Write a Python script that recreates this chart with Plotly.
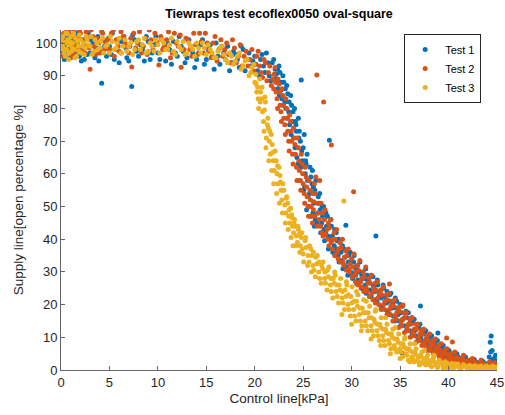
import plotly.graph_objects as go

TITLE = "Tiewraps test ecoflex0050 oval-square"
X_LABEL = "Control line[kPa]"
Y_LABEL = "Supply line[open percentage %]"
SERIES_NAMES = ["Test 1", "Test 2", "Test 3"]
X_TICKS = [0, 5, 10, 15, 20, 25, 30, 35, 40, 45]
Y_TICKS = [0, 10, 20, 30, 40, 50, 60, 70, 80, 90, 100]

# (control kPa, supply %) pairs
TEST1_PTS = [
    (0.1,97),(0.2,101),(0.3,99),(0.4,103),(0.5,96),(0.6,100),(0.8,98),(0.9,102),(1.0,95.5),(1.1,99),
    (1.3,101),(1.4,97),(1.6,103),(1.7,100),(1.9,96),(2.0,98),(2.2,101),(2.4,95),(2.6,99),(2.8,103),
    (3.0,97),(3.3,100),(3.5,95.5),(3.8,102),(4.0,98),(4.2,87.7),(4.4,101),(4.7,96),(5.0,99),(5.3,103),
    (5.5,95),(5.9,100),(6.2,97),(6.5,102),(6.8,95.5),(7.1,99),(7.3,86.7),(7.6,101),(8.0,96),(8.4,98),
    (8.8,102),(9.2,95),(9.6,99.5),
    (10.0,97),(10.4,101),(10.8,94.5),(11.2,98),(11.6,100.5),(12.0,96),(12.4,99),(12.8,94),(13.2,101),
    (13.6,97),(14.0,95),(14.4,99.5),(14.8,93.5),
    (15.2,98),(15.6,96),(16.0,100),(16.4,93.5),(16.8,97),(17.2,99),(17.6,94),(18.0,96.5),(18.4,92.5),
    (18.8,98),(19.2,95),(19.6,93),(20.0,96),
    (20.3,91.5),(20.6,95),(20.9,93),(21.2,97),(21.5,90),(21.8,94),(22.1,92),
    (22.3,88),(22.5,93),(22.7,85.6),(22.9,90),(23.1,82),(23.3,87),(23.5,79),(23.7,84),(23.9,76),
    (24.1,80),(24.3,73),(24.4,68),(24.5,77),(24.7,70),(24.8,88.7),(24.9,64),(25.1,72),(25.2,60),
    (25.4,66),(25.5,53),(25.7,62),(25.9,57),
    (26.1,51),(26.3,58),(26.5,48),(26.7,54),(26.9,45),(27.1,50),(27.3,42),(27.5,47),(27.7,70.3),
    (27.8,40),(27.9,44),
    (28.2,38),(28.4,42),(28.6,35),(28.8,39),(29.0,33),(29.2,37),(29.4,44.3),(29.5,31.5),(29.7,35),(29.9,30),
    (30.2,33),(30.4,29),(30.6,32),(30.9,27),(31.1,30),(31.4,26),(31.6,29),(31.9,24.5),
    (32.2,28.5),(32.5,41),(32.4,24),(32.7,26),(33.0,22),(33.3,25),(33.6,20.5),(33.9,23),
    (34.2,19),(34.5,22),(34.8,17),(35.0,20),(35.2,5.2),(35.3,15.5),(35.6,18),(35.9,14),
    (36.2,16),(36.5,12),(36.8,14),(37.1,19.6),(37.1,10),(37.4,12.5),(37.7,8.5),(38.0,10),
    (38.3,7),(38.6,9),(38.9,6),(38.9,11.3),(39.2,7.5),(39.5,4.5),(39.8,6),
    (40.1,3.5),(40.4,5),(40.7,3),(41.0,4),(41.3,2.5),(41.6,3.5),(41.9,2),
    (42.2,3),(42.5,2),(42.8,2.5),(43.1,1.5),(43.4,3),(43.7,2),(44.0,1.5),(44.2,4),(44.4,10.4),
    (44.5,6),(44.6,2.5),(44.8,1.5),(45.0,2),
    (0.15,99.5),(0.35,95),(0.45,101.5),(0.7,97.5),(0.75,103.5),(1.05,100.5),(1.25,96),(1.5,98.5),
    (1.8,102),(2.1,94.5),(2.3,99.5),(2.7,96.5),(3.1,101),(3.6,98.5),(3.9,94.5),(4.5,99),(4.9,101.5),
    (5.2,96.5),(5.7,98),(6.0,94),(6.3,100.5),(6.7,98.5),(7.0,94.5),(7.4,102.5),(7.8,97.5),(8.2,99.5),
    (8.6,94.5),(9.0,100.5),(9.4,97),(9.8,102),(10.2,95),(10.6,98.5),(11.0,100),(11.4,93.5),(11.8,97),
    (12.2,102),(12.6,97.5),(13.0,95.5),(13.4,99),(13.8,92.5),(14.2,97),(14.6,101),(15.0,95),(15.4,99.5),
    (15.8,92),(16.2,96),(16.6,99),(17.0,95),(17.4,91.5),(17.8,97.5),(18.2,95),(18.6,99),(19.0,91.5),
    (19.4,97),(19.8,94.5),
    (20.1,93.5),(20.45,90),(20.75,96.5),(21.05,91),(21.35,94),(21.65,88.5),(21.95,95),(22.2,90.5),
    (22.4,86),(22.6,91),(22.8,83),(23.0,88),(23.2,80),(23.4,84.5),(23.6,75),(23.8,81),(24.0,71),
    (24.2,76),(24.35,65),(24.6,73),(24.75,62),(25.0,68),(25.15,56),(25.3,63),(25.6,50),(25.8,59),
    (26.0,48),(26.2,55),(26.4,45),(26.6,51),(26.8,42),(27.0,47),(27.2,39.5),(27.4,44),(27.6,37),
    (28.0,41),(28.3,35),(28.5,39.5),(28.7,33),(28.9,36),(29.1,31),(29.3,34.5),(29.6,29),(29.8,33),
    (30.1,28),(30.3,31.5),(30.5,26.5),(30.8,30),(31.0,25),(31.3,28),(31.5,23.5),(31.8,27),(32.0,22.5),
    (32.3,25.5),(32.6,21),(32.9,24),(33.1,19.5),(33.4,22.5),(33.7,18),(34.0,21),(34.3,16.5),(34.6,19),
    (34.9,15),(35.1,17.5),(35.4,13.5),(35.7,16),(36.0,12),(36.3,14.5),(36.6,10.5),(36.9,13),(37.2,9),
    (37.5,11),(37.8,7.5),(38.1,9),(38.4,6),(38.7,7.5),(39.0,5),(39.3,6.5),(39.6,4),(39.9,5),(40.2,2.5),
    (40.5,4),(40.8,2),(41.1,3),(41.4,1.5),(41.7,2.5),(42.0,1.5),(42.3,2.5),(42.6,1.2),(42.9,2),
    (43.2,1),(43.5,2.2),(43.8,1),(44.1,2),(44.3,8.5),(44.7,3.5),(44.9,1),
    (22.15,89),(22.35,92),(22.55,84),(22.75,88),(22.95,81),(23.15,86),(23.35,77),(23.55,82),(23.75,72),
    (23.95,79),(24.15,68),(24.25,75),(24.45,63),(24.55,71),(24.65,58),(24.85,67),(25.05,55),(25.25,64),
    (25.35,49),(25.45,58),(25.65,54),(25.75,47),(25.95,61),(26.15,44),
    (26.05,56),(26.25,46),(26.55,53),(26.75,49),(26.95,50),(27.15,43),(27.35,48),(27.55,41),(27.85,46),
    (28.05,36),(28.25,43),(28.45,37),(28.65,40),(28.85,33.5),(29.05,38),(29.25,32),(29.45,36.5),
    (29.65,33),(29.85,36),(30.05,29.5),(30.25,35),(30.45,30.5),(30.65,27.5),(30.85,33),(31.05,29),
    (31.25,24.5),(31.45,31),(31.65,27.5),(31.85,22.5),(32.05,29),(32.25,26),(32.45,21.5),(32.65,27.5),
    (32.85,23),(33.05,19),(33.25,26),(33.45,21),(33.65,24),(33.85,17),(34.05,23.5),(34.25,20),(34.45,15),
    (34.65,21),(34.85,18),(35.05,13.5),(35.25,19.5),(35.45,16),(35.65,12),(35.85,17.5),(36.05,14.5),
    (36.25,11),(36.45,15.5),(36.65,12.5),(36.85,9.5),(37.05,14),(37.25,11),(37.45,8),(37.65,12),
    (37.85,9.5),(38.05,6.5),(38.25,10.5),(38.45,8),(38.65,5),(38.85,9),(39.05,6.5),(39.25,4),(39.45,7.5),
    (39.65,5.5),(39.85,3),(40.05,6),(40.25,4.5),(40.55,2.8),(40.85,5),(41.15,3.5),(41.45,2),(41.75,4),
    (42.05,2.8),(42.35,1.8),(42.65,3.2),(42.95,2.2),(43.25,1.3),(43.55,2.6),(43.85,1.8),(44.15,1.2),
    (44.35,5.5),(44.45,3),(44.65,2),(44.85,4.5),(44.95,2.8),
]

TEST2_PTS = [
    (0.1,100),(0.2,96),(0.3,103),(0.5,98),(0.6,104),(0.7,101),(0.9,97),(1.0,102),(1.2,99),(1.3,104),
    (1.5,96.5),(1.7,101),(1.8,98),(2.0,103),(2.3,100),(2.5,97),(2.7,102),
    (3.0,92),(3.1,104),(3.4,99),(3.7,101.5),(4.0,97),(4.3,103),(4.6,100),(5.0,98),(5.4,104),(5.7,101),
    (6.0,97.5),(6.4,102),(6.8,99),(7.3,92.7),(7.5,103),(7.9,100),(8.3,97),(8.7,101.5),(9.1,104),
    (9.5,98),(9.9,100.5),
    (10.1,93.3),(10.3,102),(10.7,99),(11.1,103.5),(11.5,97),(11.9,100),(12.3,102.5),(12.4,92.6),
    (12.7,98),(13.1,101),(13.5,96),(13.9,99.5),(14.3,103),(14.7,97),
    (15.1,100),(15.5,95.5),(15.9,102),(16.3,98),(16.7,96),(17.1,100),(17.5,94),(17.9,98.5),(18.3,96),
    (18.7,93),(19.1,97.5),(19.5,95),(19.9,91.5),
    (20.2,96),(20.5,93),(20.8,89.5),(21.1,94),(21.4,91),(21.7,87),(22.0,90.5),
    (22.2,85),(22.4,89),(22.6,81),(22.8,86),(23.0,77),(23.2,83),(23.4,73),(23.6,78),(23.8,70),
    (24.0,74),(24.2,66),(24.4,71),(24.6,61),(24.8,66),(25.0,57),(25.2,62),(25.4,53),(25.6,58),(25.8,50),
    (26.0,54),(26.3,59),(26.4,90.2),(26.2,47),(26.5,51),(26.7,58),(26.8,44),(27.0,48),(27.1,82),
    (27.3,41.5),(27.6,45),(27.9,68.8),(27.9,39),
    (28.2,42),(28.5,36),(28.8,39),(29.1,33),(29.4,36.5),(29.7,31),(30.0,34),
    (30.2,54.5),(30.3,29),(30.6,32),(30.9,27),(31.2,30),(31.5,25),(31.8,28),
    (32.1,23.5),(32.4,26.5),(32.7,22),(33.0,24.5),(33.3,20),(33.6,23),(33.9,18.5),(33.9,26.3),
    (34.2,21),(34.5,16.5),(34.8,19),(35.1,15),(35.3,19.9),(35.4,17.5),(35.7,13),(36.0,15.5),
    (36.3,11.5),(36.6,14),(36.9,10),(37.2,12),(37.5,8.5),(37.8,10.5),
    (38.1,7),(38.4,9),(38.7,6),(39.0,7.5),(39.3,4.5),(39.6,6),(39.8,9.8),(39.9,3.5),
    (40.2,5),(40.4,8.6),(40.5,3),(40.8,4),(41.1,2.5),(41.4,3.5),(41.7,2),(42.0,3),(42.4,1.5),(42.7,2.5),
    (43.0,1.5),(43.4,2),(43.8,1),(44.2,2),(44.6,1.5),(45.0,1),
    (0.15,102.5),(0.4,98.5),(0.55,101),(0.8,103),(0.95,99.5),(1.15,96),(1.4,101.5),(1.6,99),(1.9,104),
    (2.2,97.5),(2.4,101),(2.6,103.5),(2.9,98.5),(3.3,102),(3.6,96.5),(3.9,100),(4.2,103.5),(4.5,98),
    (4.8,101),(5.2,103),(5.5,96),(5.9,99),(6.2,103.5),(6.6,100),(7.0,97),(7.2,101.5),(7.7,98.5),
    (8.1,103.5),(8.5,99),(8.9,96.5),(9.3,101),(9.7,103),(10.5,98),(10.9,101),(11.3,95.5),(11.7,103),
    (12.1,99),(12.9,101.5),(13.3,98),(13.7,103),(14.1,96.5),(14.5,100.5),(14.9,103),(15.3,97.5),
    (15.7,100),(16.1,94.5),(16.5,101),(16.9,98),(17.3,96.5),(17.7,101),(18.1,94),(18.5,99.5),(18.9,96),
    (19.3,93),(19.7,98),
    (20.05,93.5),(20.35,97.5),(20.65,91),(20.95,95),(21.25,88.5),(21.55,93),(21.85,89),(22.1,92.5),
    (22.3,83),(22.5,87.5),(22.7,79),(22.9,84),(23.1,75),(23.3,80),(23.5,70),(23.7,76),(23.9,66),
    (24.1,71),(24.3,62),(24.5,68),(24.7,58),(24.9,63),(25.1,54),(25.3,59),(25.5,50),(25.7,55),
    (25.9,47),(26.1,51.5),(26.6,48),(26.9,42),(27.2,46),(27.5,40),(27.7,43.5),(28.0,37),(28.3,40),
    (28.6,34),(28.9,37.5),(29.2,32),(29.5,35),(29.8,30),
    (30.1,31.5),(30.4,27),(30.7,30.5),(31.0,25.5),(31.3,28.5),(31.6,24),(31.9,26.5),(32.2,21.5),
    (32.5,24.5),(32.8,20),(33.1,23),(33.4,18.5),(33.7,21.5),(34.0,17),(34.3,19.5),(34.6,15.5),(34.9,18),
    (35.2,13.5),(35.5,16),(35.8,12),(36.1,14),(36.4,10.5),(36.7,12.5),(37.0,9),(37.3,11),(37.6,7.5),
    (37.9,9),(38.2,6),(38.5,7.5),(38.8,5),(39.1,6),(39.4,3.5),(39.7,5),(40.0,3),(40.3,4),(40.6,2),
    (40.9,3),(41.2,1.8),(41.5,2.8),(41.8,1.5),(42.2,2.2),(42.5,1),(42.9,2),(43.2,1),(43.6,1.8),
    (44.0,0.8),(44.4,1.5),(44.8,0.8),
    (21.95,86),(22.15,88),(22.35,80),(22.55,85),(22.75,76),(22.95,81),(23.15,72),(23.35,77),(23.55,67),
    (23.75,73),(23.95,63),(24.15,69),(24.35,58),(24.55,64),(24.75,55),(24.95,60),(25.15,51),(25.35,56),
    (25.55,47),(25.75,52),(25.95,45),(26.15,57),
    (26.05,49),(26.25,54),(26.45,44),(26.65,46),(26.85,51),(27.05,41),(27.25,49),(27.45,43),(27.65,38),
    (27.85,46),(28.05,40),(28.25,35),(28.45,43),(28.65,37),(28.85,33),(29.05,40),(29.25,34.5),
    (29.45,30.5),(29.65,37),(29.85,32.5),(30.05,28.5),(30.25,35.5),(30.45,30),(30.65,26),(30.85,33.5),
    (31.05,28),(31.25,24),(31.45,31.5),(31.65,26.5),(31.85,22.5),(32.05,29),(32.25,25),(32.45,20.5),
    (32.65,27),(32.85,23.5),(33.05,18.5),(33.25,25.5),(33.45,21),(33.65,17),(33.85,23.5),(34.05,19.5),
    (34.25,15),(34.45,21.5),(34.65,17.5),(34.85,13),(35.05,19.5),(35.25,15.5),(35.45,11.5),(35.65,17.5),
    (35.85,14),(36.05,10),(36.25,16),(36.45,12.5),(36.65,8.5),(36.85,14),(37.05,11),(37.25,7.5),
    (37.45,12.5),(37.65,9.5),(37.85,6),(38.05,11),(38.25,8),(38.45,5),(38.65,9.5),(38.85,6.5),(39.05,4),
    (39.25,8),(39.45,5.5),(39.65,3),(39.85,6.5),(40.05,4.5),(40.35,2.5),(40.65,5.5),(40.95,3.5),
    (41.25,1.8),(41.55,4.5),(41.85,2.8),(42.15,1.5),(42.45,3.5),(42.75,2),(43.05,1),(43.35,3),
    (43.65,1.8),(43.95,1),(44.25,2.5),(44.55,1.2),(44.75,2.2),(44.95,1.5),
]

TEST3_PTS = [
    (0.1,99),(0.2,102),(0.3,97),(0.4,100),(0.5,103),(0.6,98),(0.7,101),(0.8,95),(0.9,99.5),(1.0,102),
    (1.1,97.5),(1.2,100),(1.4,98),(1.5,101.5),(1.6,96),(1.8,99),(1.9,102.5),(2.1,97),(2.3,100),
    (2.5,98.5),(2.7,101),
    (3.0,99),(3.2,96.5),(3.5,101),(3.8,98),(4.1,100.5),(4.4,97),(4.8,99.5),(5.1,102),(5.5,98),(5.8,100),
    (6.2,97),(6.6,101),(7.0,99),(7.4,96.5),(7.8,100.5),(8.2,98),(8.6,101.5),(9.0,97.5),(9.4,99),(9.8,101),
    (10.2,97),(10.6,100),(11.0,98),(11.4,101.5),(11.8,96.5),(12.2,99),(12.6,100.5),(13.0,97),(13.4,99),
    (13.8,96),(14.2,98.5),(14.6,100),(15.0,96.5),
    (15.4,98),(15.8,95.5),(16.2,97.5),(16.6,99),(17.0,95),(17.4,97),(17.8,93.5),(18.2,96),(18.6,92),
    (19.0,94.5),(19.4,90),(19.7,92.5),(20.0,88),
    (20.2,85),(20.4,80),(20.5,89),(20.7,83),(20.9,76),(21.0,79.5),(21.2,71),(21.4,74),(21.6,66),
    (21.8,69),(22.0,61),
    (22.2,64),(22.4,57),(22.6,59.5),(22.8,52),(23.0,55),(23.2,48),(23.4,51),(23.6,45),(23.8,47.5),(24.0,42),
    (24.2,44),(24.4,39),(24.6,41.5),(24.9,37),(25.2,39.5),(25.5,35),(25.8,37),(26.0,32),
    (26.3,34.5),(26.6,30),(26.9,32),(27.2,28),(27.5,30.5),(27.8,26),
    (28.1,28),(28.4,24),(28.7,26),(29.0,22),(29.2,51.7),(29.3,24.5),(29.6,20),(29.9,22.5),
    (30.2,18.5),(30.5,21),(30.8,17),(31.1,19),(31.4,15),(31.7,17.5),
    (32.0,13.5),(32.3,15.5),(32.6,12),(32.9,14),(33.2,10.5),(33.5,12.5),(33.8,9),
    (34.1,11),(34.4,7.5),(34.7,9.5),(35.0,6.5),(35.3,8),(35.6,5),(35.9,6.5),
    (36.2,4),(36.5,5.5),(36.8,3),(37.1,4.5),(37.4,2.5),(37.7,3.5),(38.0,2),
    (38.3,3),(38.7,1.5),(39.1,2.5),(39.5,1),(39.9,2),(40.3,1),(40.7,1.8),(41.1,0.8),(41.5,1.5),
    (41.9,0.7),(42.3,1.2),(42.7,0.6),(43.1,1),(43.5,0.5),(43.9,1.2),(44.3,0.7),(44.7,1),(45.0,0.5),
    (0.05,101),(0.25,98.5),(0.45,96),(0.55,100.5),(0.65,103),(0.85,97),(0.95,100.5),(1.15,98.5),
    (1.3,103),(1.45,95.5),(1.7,100.5),(1.85,97.5),(2.0,101),(2.2,99),(2.4,96.5),(2.6,102),(2.8,99.5),
    (3.1,102),(3.4,97.5),(3.7,100),(4.0,98.5),(4.3,101.5),(4.6,99),(5.0,97),(5.3,100.5),(5.7,98.5),
    (6.0,101.5),(6.4,99),(6.8,97.5),(7.2,100),(7.6,98),(8.0,101),(8.4,99.5),(8.8,97),(9.2,100),
    (9.6,97.5),(10.0,99.5),(10.4,101),(10.8,98),(11.2,99.5),(11.6,97.5),(12.0,100.5),(12.4,98),
    (12.8,96.5),(13.2,100),(13.6,98),(14.0,100),(14.4,97),(14.8,98.5),(15.2,99.5),(15.6,97),(16.0,95.5),
    (16.4,98.5),(16.8,96.5),(17.2,94),(17.6,96),(18.0,94.5),(18.4,97),(18.8,93),(19.2,95),(19.6,91),
    (19.9,93.5),
    (20.1,90.5),(20.3,86.5),(20.6,85),(20.8,79),(21.1,82),(21.3,75),(21.5,70),(21.7,72),(21.9,64),
    (22.1,67),(22.3,60),(22.5,62),(22.7,55),(22.9,57),(23.1,50.5),(23.3,53),(23.5,47),(23.7,49.5),
    (23.9,44),(24.1,46),(24.3,41),(24.5,43),(24.7,38),(24.8,40.5),(25.0,35.5),(25.3,37.5),(25.6,33),
    (25.9,35),(26.1,30.5),(26.4,32.5),(26.7,28),(27.0,31),(27.3,26.5),(27.6,28.5),(27.9,24),(28.2,26.5),
    (28.5,22.5),(28.8,24.5),(29.1,20.5),(29.4,22.5),(29.7,18.5),(30.0,20.5),
    (30.3,16.5),(30.6,19.5),(30.9,15),(31.2,17.5),(31.5,13.5),(31.8,16),(32.1,12),(32.4,14.5),
    (32.7,10.5),(33.0,13),(33.3,9),(33.6,11.5),(33.9,8),(34.2,10),(34.5,6.5),(34.8,8.5),(35.1,5.5),
    (35.4,7),(35.7,4.5),(36.0,6),(36.3,3.5),(36.6,4.8),(36.9,2.5),(37.2,4),(37.5,2),(37.8,3),(38.1,1.5),
    (38.5,2.5),(38.9,1),(39.3,2),(39.7,0.8),(40.1,1.5),(40.5,0.6),(40.9,1.3),(41.3,0.5),(41.7,1.2),
    (42.1,0.5),(42.5,1),(42.9,0.4),(43.3,0.9),(43.7,0.4),(44.1,0.8),(44.5,0.4),(44.9,0.8),
    (28.3,29),(29.5,26),(30.5,24),(31.5,21),(32.5,18.5),(33.5,16),(34.5,13),(35.5,10),(36.5,8),
    (37.5,6),(38.5,4.5),(29.0,17),(30.0,14),(31.0,12),(32.0,9.5),(33.0,7.5),(34.0,5),(35.0,3.5),
    (36.0,2.5),(37.0,1.5),
    (20.15,87.5),(20.35,83),(20.55,82),(20.75,86.5),(20.95,73),(21.05,83.5),(21.15,68),(21.35,77),
    (21.45,64),(21.55,73),(21.75,61),(21.85,66.5),(21.95,57),(22.05,64),(22.25,54),(22.35,62.5),
    (22.55,51),(22.65,57.5),(22.85,48),(22.95,55),(23.15,45),(23.25,52.5),(23.45,43),(23.55,49),
    (23.75,40.5),(23.85,46.5),(23.95,38),
    (24.05,45),(24.25,38),(24.45,44),(24.65,36),(24.85,42),(25.05,33),(25.25,40.5),(25.45,32),(25.65,38),
    (25.85,30),(26.05,36),(26.25,28.5),(26.45,35),(26.65,33),(26.85,26.5),(27.05,33),(27.25,30),
    (27.45,24.5),(27.65,31.5),(27.85,28),(28.05,22),(28.25,30),(28.45,26),(28.65,20.5),(28.85,28),
    (29.05,24),(29.25,18.5),(29.45,27),(29.65,23),(29.85,16.5),(30.05,25.5),(30.25,21),(30.45,15),
    (30.65,23),(30.85,19),(31.05,13.5),(31.25,21.5),(31.45,17.5),(31.65,12),(31.85,19.5),(32.05,16),
    (32.25,10.5),(32.45,18),(32.65,14),(32.85,9),(33.05,16),(33.25,12.5),(33.45,7.5),(33.65,14),
    (33.85,11),(34.05,6.5),(34.25,12.5),(34.45,9.5),(34.65,5.5),(34.85,11),(35.05,8),(35.25,4),
    (35.45,9.5),(35.65,6.5),(35.85,3),(36.05,8),(36.25,5.5),(36.45,2.5),(36.65,6.5),(36.85,4),
    (37.05,1.8),(37.25,5.5),(37.45,3.5),(37.65,1.5),(37.85,4.5),(38.05,2.8),(38.25,1),(38.45,3.8),
    (38.65,2.2),(38.85,0.8),(39.05,3),(39.25,1.8),(39.45,0.6),(39.65,2.5),(39.85,1.3),(40.05,0.5),
    (40.35,2),(40.65,1),(40.95,1.8),(41.25,0.6),(41.55,1.6),(41.85,0.9),(42.15,1.4),(42.45,0.5),
    (42.75,1.3),(43.05,0.7),(43.35,1.2),(43.65,0.6),(43.95,1.1),(44.25,0.5),(44.55,1.2),(44.85,0.5),
]

COLORS = ["#0072BD", "#D95319", "#EDB120"]
FONT = "Liberation Sans, Arial, sans-serif"
AXIS_COLOR = "#666666"

W, H = 505, 415

fig = go.Figure()
for name, pts, col in zip(SERIES_NAMES, [TEST1_PTS, TEST2_PTS, TEST3_PTS], COLORS):
    xs = [p[0] for p in pts]
    ys = [p[1] for p in pts]
    fig.add_trace(go.Scatter(x=xs, y=ys, mode="markers", name=name,
                             marker=dict(color=col, size=5, line=dict(width=0))))

fig.update_layout(
    width=W, height=H,
    margin=dict(l=61, r=8, t=30, b=45, autoexpand=False),
    paper_bgcolor="white", plot_bgcolor="white",
    font=dict(family=FONT, size=13, color="#262626"),
    title=dict(text="<b>" + TITLE + "</b>", x=0.5, xanchor="center", xref="paper",
               y=1 - 14 / H, yanchor="middle", font=dict(size=12.5, color="black")),
    showlegend=True,
    legend=dict(x=0.787, xanchor="left", y=0.988, yanchor="top",
                bgcolor="white", bordercolor="#262626", borderwidth=1,
                font=dict(size=11, color="black"), tracegroupgap=0),
)
fig.update_xaxes(range=[0, 45], tickvals=X_TICKS, showgrid=False, zeroline=False,
                 showline=True, linecolor=AXIS_COLOR, linewidth=1, mirror=False,
                 ticks="inside", ticklen=4, tickcolor=AXIS_COLOR, automargin=False,
                 title=dict(text=X_LABEL, standoff=4, font=dict(size=13.5)))
fig.update_yaxes(range=[0, 104], tickvals=Y_TICKS, showgrid=False, zeroline=False,
                 showline=True, linecolor=AXIS_COLOR, linewidth=1, mirror=False,
                 ticks="inside", ticklen=4, tickcolor=AXIS_COLOR, automargin=False,
                 title=dict(text=Y_LABEL, standoff=8, font=dict(size=13.5)))

fig.write_html("out.html",
               config={"displayModeBar": False},
               post_script="document.body.style.margin='0';document.body.style.overflow='hidden';")
